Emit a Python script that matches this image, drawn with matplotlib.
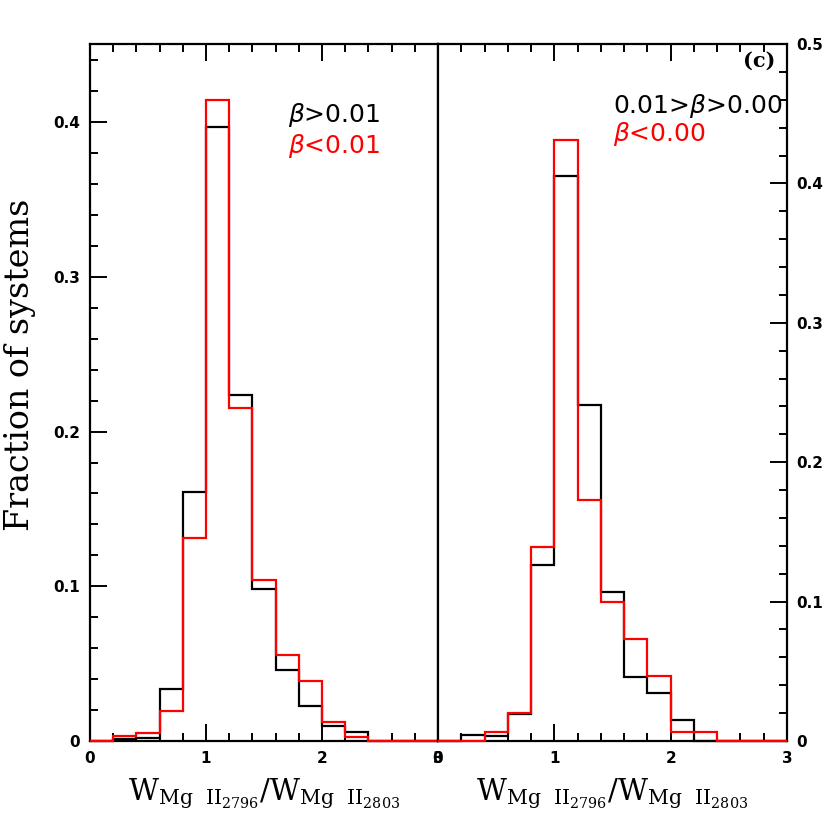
import numpy as np
import matplotlib
matplotlib.use("Agg")
import matplotlib.pyplot as plt
from matplotlib.ticker import MultipleLocator

plt.rcParams['mathtext.fontset'] = 'dejavusans'

# bin edges of W2796/W2803, 0.2 wide, from 0 to 3
edges = np.round(np.arange(0, 3.01, 0.2), 2)

# left panel: beta > 0.01 (black), beta < 0.01 (red)
left_black = [0.0, 0.001, 0.002, 0.0336, 0.161, 0.397, 0.2237, 0.098, 0.0459,
              0.0226, 0.0097, 0.006, 0.0, 0.0, 0.0]
left_red = [0.0, 0.003, 0.005, 0.0196, 0.131, 0.4143, 0.2155, 0.104, 0.0556,
            0.0388, 0.012, 0.0024, 0.0, 0.0, 0.0]

# right panel: 0.01 > beta > 0.00 (black), beta < 0.00 (red)
right_black = [0.0, 0.0043, 0.0038, 0.0194, 0.1266, 0.405, 0.241, 0.107, 0.046,
               0.0343, 0.0151, 0.0, 0.0, 0.0, 0.0]
right_red = [0.0, 0.0, 0.0065, 0.0199, 0.139, 0.431, 0.1727, 0.0998, 0.0731,
             0.0465, 0.0065, 0.0065, 0.0, 0.0, 0.0]

xticks = [0, 1, 2, 3]
xlabel = r'$\mathregular{W_{Mg\ \ II_{2796}}/W_{Mg\ \ II_{2803}}}$'

fig = plt.figure(figsize=(8.3, 8.3), dpi=100)
L, R, M = 90 / 830, 787 / 830, 438 / 830
B, T = 1 - 741 / 830, 1 - 44 / 830
ax1 = fig.add_axes([L, B, M - L, T - B])
ax2 = fig.add_axes([M, B, R - M, T - B])

lw = 1.6
for ax, blk, red in ((ax1, left_black, left_red), (ax2, right_black, right_red)):
    ax.stairs(blk, edges, color="black", lw=lw, zorder=3, clip_on=False)
    ax.stairs(red, edges, color="red", lw=lw, zorder=4, clip_on=False)

ax1.set_xlim(0, 3)
ax1.set_ylim(0, 0.4505)
ax2.set_xlim(0, 3)
ax2.set_ylim(0, 0.5)

tickfont = dict(fontsize=11, fontweight="bold")
for ax in (ax1, ax2):
    for s in ax.spines.values():
        s.set_linewidth(1.6)
    ax.xaxis.set_major_locator(MultipleLocator(1))
    ax.xaxis.set_minor_locator(MultipleLocator(0.2))
    ax.yaxis.set_major_locator(MultipleLocator(0.1))
    ax.yaxis.set_minor_locator(MultipleLocator(0.02))
    ax.tick_params(which="both", direction="in", width=1.4, top=True, bottom=True)
    ax.tick_params(which="major", length=12, pad=7)
    ax.tick_params(which="minor", length=6)
    ax.set_xticks(xticks)
    ax.set_xticklabels([str(t) for t in xticks], **tickfont)
    ax.set_xlabel(xlabel, fontsize=21, family="DejaVu Serif", labelpad=8)

ax1.tick_params(which="both", left=True, right=False)
ax1.set_yticks([0, 0.1, 0.2, 0.3, 0.4])
ax1.set_yticklabels(["0", "0.1", "0.2", "0.3", "0.4"], **tickfont)
fig.text(0.024, 1 - 365 / 830, "Fraction of systems", rotation=90,
         ha="center", va="center", fontsize=24, family="DejaVu Serif")

ax2.tick_params(which="both", left=False, right=True, labelleft=False, labelright=True)
ax2.set_yticks([0, 0.1, 0.2, 0.3, 0.4, 0.5])
ax2.set_yticklabels(["0", "0.1", "0.2", "0.3", "0.4", "0.5"], **tickfont)

# legends as text
ax1.text(1.71, 0.400, r"$\beta$>0.01", color="black", fontsize=18)
ax1.text(1.71, 0.380, r"$\beta$<0.01", color="red", fontsize=18)
ax2.text(1.505, 0.4504, r"0.01>$\beta$>0.00", color="black", fontsize=18)
ax2.text(1.505, 0.4307, r"$\beta$<0.00", color="red", fontsize=18)
ax2.text(2.898, 0.484, "(c)", ha="right", fontsize=15, fontweight="bold", family="DejaVu Serif")

plt.savefig("out.png", dpi=100)
